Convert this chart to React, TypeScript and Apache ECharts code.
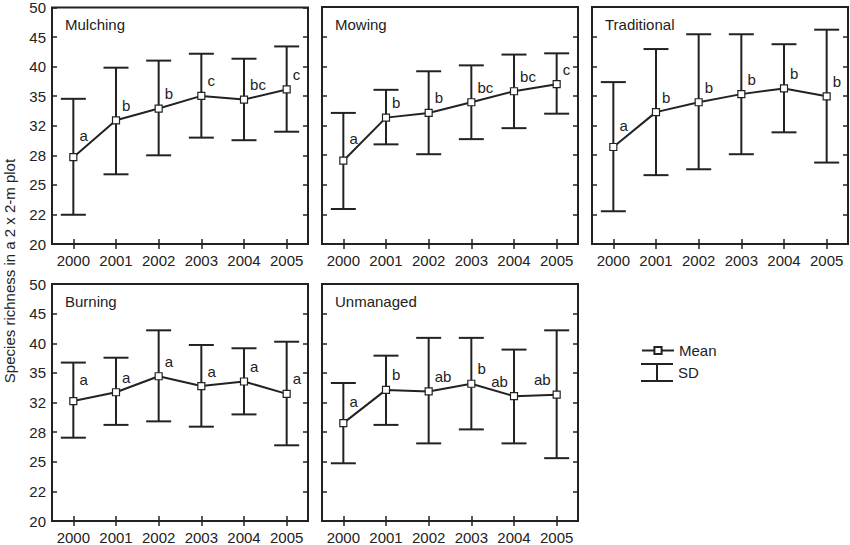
import React, { useEffect, useRef } from 'react';
import * as echarts from 'echarts';

// years on the x axis
const years = ['2000', '2001', '2002', '2003', '2004', '2005'];

// y axis: geometric scale from 20 to 50 in 8 steps
const Y_MIN = 20;
const Y_MAX = 50;
const Y_STEPS = 8;

const mulchingMean = [28.0, 32.3, 33.8, 35.5, 35.0, 36.4];
const mulchingLow = [22.4, 26.2, 28.2, 30.2, 29.9, 30.9];
const mulchingHigh = [35.1, 39.6, 40.7, 41.8, 41.0, 43.0];
const mulchingLetters = ['a', 'b', 'b', 'c', 'bc', 'c'];

const mowingMean = [27.6, 32.6, 33.2, 34.6, 36.1, 37.1];
const mowingLow = [22.9, 29.4, 28.3, 30.0, 31.3, 33.1];
const mowingHigh = [33.2, 36.3, 39.0, 39.9, 41.6, 41.8];
const mowingLetters = ['a', 'b', 'b', 'bc', 'bc', 'c'];

const traditionalMean = [29.1, 33.3, 34.6, 35.7, 36.5, 35.4];
const traditionalLow = [22.7, 26.1, 26.7, 28.3, 30.8, 27.4];
const traditionalHigh = [37.4, 42.5, 45.0, 45.0, 43.3, 45.8];
const traditionalLetters = ['a', 'b', 'b', 'b', 'b', 'b'];

const burningMean = [31.8, 32.9, 35.0, 33.7, 34.3, 32.7];
const burningLow = [27.6, 29.0, 29.4, 28.8, 30.2, 26.8];
const burningHigh = [36.9, 37.6, 41.8, 39.5, 39.0, 40.0];
const burningLetters = ['a', 'a', 'a', 'a', 'a', 'a'];

const unmanagedMean = [29.2, 33.2, 33.0, 34.0, 32.4, 32.6];
const unmanagedLow = [25.0, 29.0, 27.0, 28.5, 27.0, 25.5];
const unmanagedHigh = [34.1, 37.9, 40.6, 40.6, 38.8, 41.8];
const unmanagedLetters = ['a', 'b', 'ab', 'b', 'ab', 'ab'];
// letters drawn to the left of the bar
const unmanagedLeft = [false, false, false, false, true, true];

const INK = '#222';
const FONT = '"Liberation Sans", Arial, sans-serif';
const FS = 15;

const ratio = Math.pow(Y_MAX / Y_MIN, 1 / Y_STEPS);
const toScale = (v: number) => Math.log(v / Y_MIN) / Math.log(ratio);

const panels = [
  { name: 'Mulching', mean: mulchingMean, low: mulchingLow, high: mulchingHigh, letters: mulchingLetters, left: null as boolean[] | null },
  { name: 'Mowing', mean: mowingMean, low: mowingLow, high: mowingHigh, letters: mowingLetters, left: null },
  { name: 'Traditional', mean: traditionalMean, low: traditionalLow, high: traditionalHigh, letters: traditionalLetters, left: null },
  { name: 'Burning', mean: burningMean, low: burningLow, high: burningHigh, letters: burningLetters, left: null },
  { name: 'Unmanaged', mean: unmanagedMean, low: unmanagedLow, high: unmanagedHigh, letters: unmanagedLetters, left: unmanagedLeft },
];

const colLeft = [52, 322, 592];
const rowTop = [7, 284];
const PW = 256;
const PH = 237;

const App: React.FC = () => {
  const chartRef = useRef<HTMLDivElement | null>(null);

  useEffect(() => {
    if (!chartRef.current) return;
    const chart = echarts.init(chartRef.current, undefined, { renderer: 'svg' });

    const grids: any[] = [];
    const xAxes: any[] = [];
    const yAxes: any[] = [];
    const series: any[] = [];
    const titles: any[] = [];

    const tick = { show: true, inside: true, length: 5, lineStyle: { color: INK, width: 1.5 } };

    panels.forEach((p, i) => {
      const col = i % 3;
      const row = Math.floor(i / 3);
      const left = colLeft[col];
      const top = rowTop[row];
      grids.push({
        left, top, width: PW, height: PH,
        show: true, borderColor: INK, borderWidth: 2, backgroundColor: '#fff',
      });
      titles.push({
        text: p.name, left: left + 13, top: top + 10, padding: 0,
        textStyle: { fontSize: FS, fontWeight: 'normal', color: INK, fontFamily: FONT },
      });
      xAxes.push({
        type: 'category', gridIndex: i, data: years, boundaryGap: true, position: 'bottom',
        axisLine: { show: false },
        axisTick: { ...tick, alignWithLabel: true, interval: 0 },
        axisLabel: { fontSize: FS, color: INK, margin: 9, fontFamily: FONT, interval: 0, hideOverlap: false },
        splitLine: { show: false },
      });
      xAxes.push({
        type: 'category', gridIndex: i, data: years, boundaryGap: true, position: 'top',
        axisLine: { show: false },
        axisTick: { ...tick, alignWithLabel: true, interval: 0 },
        axisLabel: { show: false, interval: 0 },
        splitLine: { show: false },
      });
      yAxes.push({
        type: 'value', gridIndex: i, min: 0, max: Y_STEPS, interval: 1, position: 'left',
        axisLine: { show: false },
        axisTick: tick,
        axisLabel: {
          show: col === 0, fontSize: FS, color: INK, margin: 6, fontFamily: FONT,
          formatter: (k: number) => String(Math.round(Y_MIN * Math.pow(ratio, k))),
        },
        splitLine: { show: false },
      });
      yAxes.push({
        type: 'value', gridIndex: i, min: 0, max: Y_STEPS, interval: 1, position: 'right',
        axisLine: { show: false },
        axisTick: tick,
        axisLabel: { show: false },
        splitLine: { show: false },
      });

      series.push({
        name: 'SD', type: 'custom', xAxisIndex: 2 * i, yAxisIndex: 2 * i,
        itemStyle: { color: INK },
        data: years.map((_, j) => [j, toScale(p.low[j]), toScale(p.high[j])]),
        encode: { x: 0, y: [1, 2] },
        renderItem: (params: any, api: any) => {
          const x = api.value(0);
          const lo = api.coord([x, api.value(1)]);
          const hi = api.coord([x, api.value(2)]);
          const w = 12.5;
          const style = { stroke: INK, lineWidth: 2 };
          return {
            type: 'group',
            children: [
              { type: 'line', shape: { x1: hi[0], y1: hi[1], x2: lo[0], y2: lo[1] }, style },
              { type: 'line', shape: { x1: hi[0] - w, y1: hi[1], x2: hi[0] + w, y2: hi[1] }, style },
              { type: 'line', shape: { x1: lo[0] - w, y1: lo[1], x2: lo[0] + w, y2: lo[1] }, style },
            ],
          };
        },
      });

      series.push({
        name: 'Mean', type: 'line', xAxisIndex: 2 * i, yAxisIndex: 2 * i,
        symbol: 'rect', symbolSize: 7,
        lineStyle: { color: INK, width: 2 },
        itemStyle: { color: '#fff', borderColor: INK, borderWidth: 1.2 },
        emphasis: { disabled: true },
        data: p.mean.map((m, j) => ({
          value: toScale(m),
          label: {
            position: p.left && p.left[j] ? 'left' : 'right',
            distance: 2,
            offset: [0, j === 0 ? -22 : -15],
          },
        })),
        label: {
          show: true, fontSize: FS, color: INK, fontFamily: FONT,
          formatter: (params: any) => p.letters[params.dataIndex],
        },
      });
    });

    const option: any = {
      animation: false,
      textStyle: { fontFamily: FONT },
      title: titles,
      grid: grids,
      xAxis: xAxes,
      yAxis: yAxes,
      series,
      legend: [
        {
          data: ['Mean'], left: 641, top: 343, padding: 0, orient: 'vertical',
          itemWidth: 32, itemHeight: 9, selectedMode: false,
          textStyle: { fontSize: FS, color: INK, fontFamily: FONT },
        },
        {
          data: [{ name: 'SD', icon: 'path://M0,0h32v2h-32z M15,0h2v19h-2z M0,17h32v2h-32z', itemStyle: { color: INK } }],
          left: 641, top: 363, padding: 0, orient: 'vertical',
          itemWidth: 32, itemHeight: 19, selectedMode: false,
          textStyle: { fontSize: FS, color: INK, fontFamily: FONT },
        },
      ],
      graphic: [
        {
          type: 'text', x: 9, y: 271, rotation: Math.PI / 2,
          style: {
            text: 'Species richness in a 2 x 2-m plot', fontSize: FS, fill: INK,
            fontFamily: FONT, align: 'center', verticalAlign: 'middle',
          },
        },
      ],
    };

    chart.setOption(option);
    return () => {
      chart.dispose();
    };
  }, []);

  return (
    <div
      ref={chartRef}
      style={{ position: 'absolute', left: 0, top: 0, width: '850px', height: '545px', background: '#fff' }}
    />
  );
};

export default App;
